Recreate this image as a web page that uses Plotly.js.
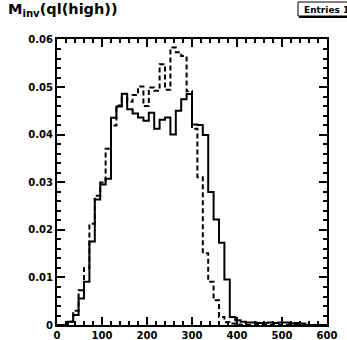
<!DOCTYPE html>
<html>
<head>
<meta charset="utf-8">
<script src="https://cdn.plot.ly/plotly-3.0.1.min.js"></script>
<style>html,body{margin:0;padding:0;background:#fff;}#chart{width:347px;height:340px;}</style>
</head>
<body>
<div id="chart"></div>
<script>
// Histogram binning: 50 bins from 0 to 600
const binLow = 0;
const binWidth = 12;
const nBins = 50;

// Solid histogram (bin contents)
const solidValues = [
  0, 0, 0.0007, 0.0021, 0.0056, 0.0091, 0.0176, 0.0264, 0.0296, 0.0308,
  0.0436, 0.0460, 0.0487, 0.0454, 0.0445, 0.0437, 0.0430, 0.0447, 0.0413, 0.0432,
  0.0437, 0.0401, 0.0451, 0.0475, 0.0486, 0.0422, 0.0421, 0.0400, 0.0280, 0.0222,
  0.0173, 0.0096, 0.0017, 0.0010, 0.0007, 0.0005, 0.0005, 0.0004, 0.0004, 0.0005,
  0.0004, 0.0005, 0.0005, 0.0003, 0.0004, 0.0003, 0, 0, 0, 0
];

// Dashed histogram (bin contents)
const dashedValues = [
  0, 0, 0.0007, 0.0030, 0.0073, 0.0120, 0.0213, 0.0272, 0.0300, 0.0371,
  0.0420, 0.0462, 0.0486, 0.0470, 0.0484, 0.0502, 0.0461, 0.0500, 0.0493, 0.0549,
  0.0495, 0.0584, 0.0574, 0.0566, 0.0492, 0.0413, 0.0311, 0.0151, 0.0091, 0.0052,
  0.0017, 0.0006, 0.0003, 0.0001, 0, 0, 0, 0, 0, 0,
  0, 0, 0, 0, 0, 0, 0, 0, 0, 0
];

const xTickVals = [0, 100, 200, 300, 400, 500, 600];
const xTickText = ['0', '100', '200', '300', '400', '500', '600'];
const yTickVals = [0, 0.01, 0.02, 0.03, 0.04, 0.05, 0.06];
const yTickText = ['0', '0.01', '0.02', '0.03', '0.04', '0.05', '0.06'];

const titleText = 'M<sub>inv</sub>(ql(high))';
const statsText = 'Entries 1';

function edges() {
  const e = [];
  for (let i = 0; i <= nBins; i++) e.push(binLow + i * binWidth);
  return e;
}
function stepY(vals) { return vals.concat([vals[vals.length - 1]]); }

const tickFont = {family: 'DejaVu Sans', size: 10, color: '#000', weight: 'bold'};

const traces = [
  {x: edges(), y: stepY(solidValues), type: 'scatter', mode: 'lines',
   line: {shape: 'hv', color: '#000', width: 2}, hoverinfo: 'skip'},
  {x: edges(), y: stepY(dashedValues), type: 'scatter', mode: 'lines',
   line: {shape: 'hv', color: '#000', width: 2, dash: '5px,3px'}, hoverinfo: 'skip'}
];

// plot area in pixels: left 57, right 327, top 39, bottom 325
const L = 57, R = 327, T = 39, B = 325;
const px = v => (v - L) / (R - L);
const py = v => (B - v) / (B - T);

const layout = {
  width: 347, height: 340,
  margin: {l: L, r: 347 - R, t: T, b: 340 - B, pad: 0},
  paper_bgcolor: '#fff', plot_bgcolor: '#fff',
  showlegend: false,
  title: {text: titleText, x: 8 / 347, xanchor: 'left', xref: 'container',
          y: 1 - 9 / 340, yanchor: 'middle', yref: 'container',
          font: {family: 'DejaVu Sans', size: 14.5, color: '#000', weight: 'bold'}},
  xaxis: {range: [0, 600], tickvals: xTickVals, ticktext: xTickText,
          ticks: 'inside', ticklen: 8, tickwidth: 2, tickcolor: '#000',
          showline: true, linewidth: 2, linecolor: '#000', mirror: 'allticks',
          showgrid: false, zeroline: false, tickfont: tickFont,
          minor: {dtick: 20, tick0: 0, ticks: 'inside', ticklen: 4, tickwidth: 2, tickcolor: '#000', showgrid: false}},
  yaxis: {range: [0, 0.0602], tickvals: yTickVals, ticktext: yTickText,
          ticks: 'inside', ticklen: 8, tickwidth: 2, tickcolor: '#000',
          showline: true, linewidth: 2, linecolor: '#000', mirror: 'allticks',
          showgrid: false, zeroline: false, tickfont: tickFont,
          minor: {dtick: 0.002, tick0: 0, ticks: 'inside', ticklen: 4, tickwidth: 2, tickcolor: '#000', showgrid: false}},
  shapes: [
    {type: 'rect', xref: 'paper', yref: 'paper', x0: px(298), x1: px(352), y0: py(16), y1: py(2),
     line: {color: '#000', width: 1}, fillcolor: '#fff', layer: 'above'},
    {type: 'line', xref: 'paper', yref: 'paper', x0: px(299), x1: px(352), y0: py(17), y1: py(17),
     line: {color: '#000', width: 2}, layer: 'above'}
  ],
  annotations: [
    {text: statsText, xref: 'paper', yref: 'paper', x: px(302), y: py(9.5),
     xanchor: 'left', yanchor: 'middle', showarrow: false,
     font: {family: 'DejaVu Sans', size: 9, color: '#000', weight: 'bold'}}
  ]
};

Plotly.newPlot('chart', traces, layout, {staticPlot: true, displayModeBar: false});
</script>
</body>
</html>
